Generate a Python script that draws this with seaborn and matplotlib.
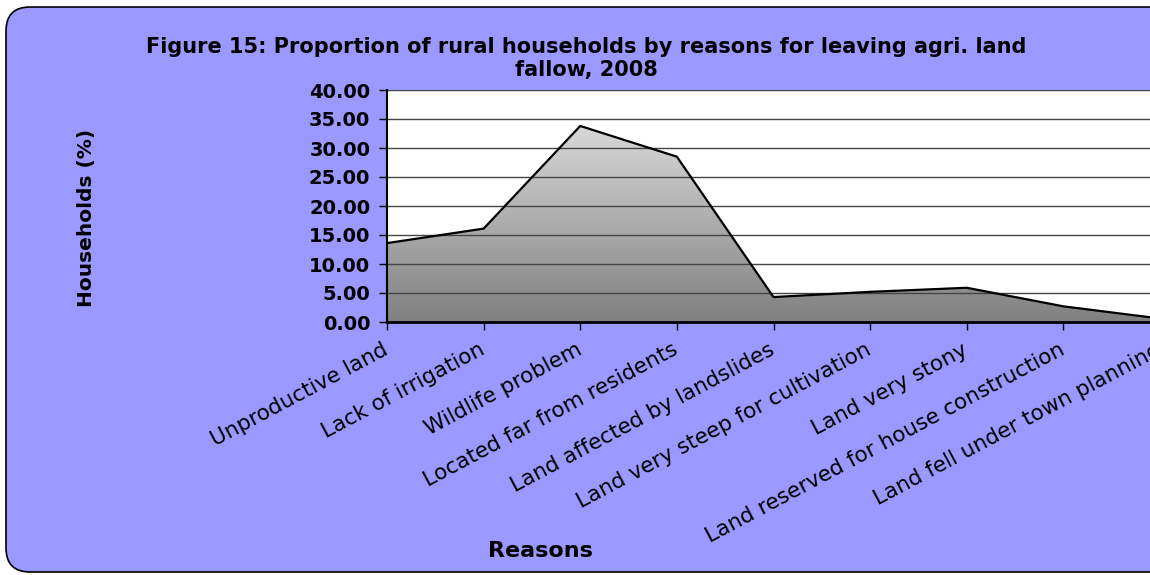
import numpy as np
import pandas as pd
import matplotlib
matplotlib.use("Agg")
import matplotlib.pyplot as plt
import seaborn as sns
from matplotlib.patches import FancyBboxPatch, Polygon
from matplotlib.transforms import IdentityTransform

##### data #####
reasons = ["Unproductive land", "Lack of irrigation", "Wildlife problem",
           "Located far from residents", "Land affected by landslides",
           "Land very steep for cultivation", "Land very stony",
           "Land reserved for house construction", "Land fell under town planning"]
households = [13.6, 16.1, 33.8, 28.5, 4.3, 5.2, 5.9, 2.7, 0.6]
yticks = [0, 5, 10, 15, 20, 25, 30, 35, 40]

df = pd.DataFrame({"reason": reasons, "pct": households})
df["pos"] = np.arange(len(df))

sns.set_style("white")
plt.rcParams['font.family'] = ['DejaVu Sans']
plt.rcParams['text.color'] = 'black'
plt.rcParams['xtick.color'] = 'black'
plt.rcParams['ytick.color'] = 'black'

fig = plt.figure(figsize=(11.5, 5.75), dpi=100, facecolor="white")

# rounded purple frame (pixel coords)
frame = FancyBboxPatch((6, 3), 1250, 565, boxstyle="round,pad=0,rounding_size=24",
                       transform=IdentityTransform(), facecolor="#9999FF",
                       edgecolor="black", linewidth=1.2, zorder=-5)
fig.patches.append(frame)

ax = fig.add_axes([387 / 1150, 253 / 575, 773 / 1150, 232 / 575])
ax.set_zorder(2)
ax.set_facecolor("white")

#### gradient filled area ####
xs = df["pos"].to_numpy()
ys = df["pct"].to_numpy()
verts = [(xs[0], 0)] + list(zip(xs, ys)) + [(xs[-1], 0)]
poly = Polygon(verts, closed=True, facecolor="none", edgecolor="none")
ax.add_patch(poly)
grad = np.linspace(0, 1, 256).reshape(-1, 1)
cmap = matplotlib.colors.LinearSegmentedColormap.from_list("g", ["#808080", "#E8E8E8"])
img = ax.imshow(grad, cmap=cmap, origin="lower", aspect="auto",
                extent=(0, len(xs) - 1, 0, 40), zorder=1)
img.set_clip_path(poly)

sns.lineplot(data=df, x="pos", y="pct", color="black", linewidth=1.6, ax=ax,
             sort=False, zorder=3)

ax.set_xlim(0, len(xs) - 1)
ax.set_ylim(0, 40)
ax.set_yticks(yticks)
ax.set_yticklabels([f"{v:.2f}" for v in yticks], fontsize=14, fontweight="bold")
ax.set_xticks(xs)
ax.set_xticklabels(reasons, fontsize=15.5, rotation=28, ha="right",
                   rotation_mode="anchor", va="center")
for v in yticks[1:]:
    ax.axhline(v, color="#444444", linewidth=1.0, zorder=2)

ax.tick_params(axis="both", direction="out", length=6, width=1, color="black",
               bottom=True, left=True)
ax.tick_params(axis="x", pad=13)
ax.tick_params(axis="y", pad=6)
for s in ["top", "right"]:
    ax.spines[s].set_visible(False)
ax.spines["left"].set_color("black")
ax.spines["left"].set_linewidth(1.5)
ax.spines["bottom"].set_color("black")
ax.spines["bottom"].set_linewidth(2)
ax.spines["bottom"].set_zorder(4)
ax.set_xlabel("")
ax.set_ylabel("")

fig.text(0.51, 0.935, "Figure 15: Proportion of rural households by reasons for leaving agri. land\nfallow, 2008",
         ha="center", va="top", fontsize=15, fontweight="bold", linespacing=1.15)
fig.text(0.075, 0.621, "Households (%)", rotation=90, ha="center", va="center",
         fontsize=14.5, fontweight="bold")
fig.text(0.47, 0.042, "Reasons", ha="center", va="center", fontsize=16, fontweight="bold")

fig.savefig("out.png", dpi=100, facecolor="white")
